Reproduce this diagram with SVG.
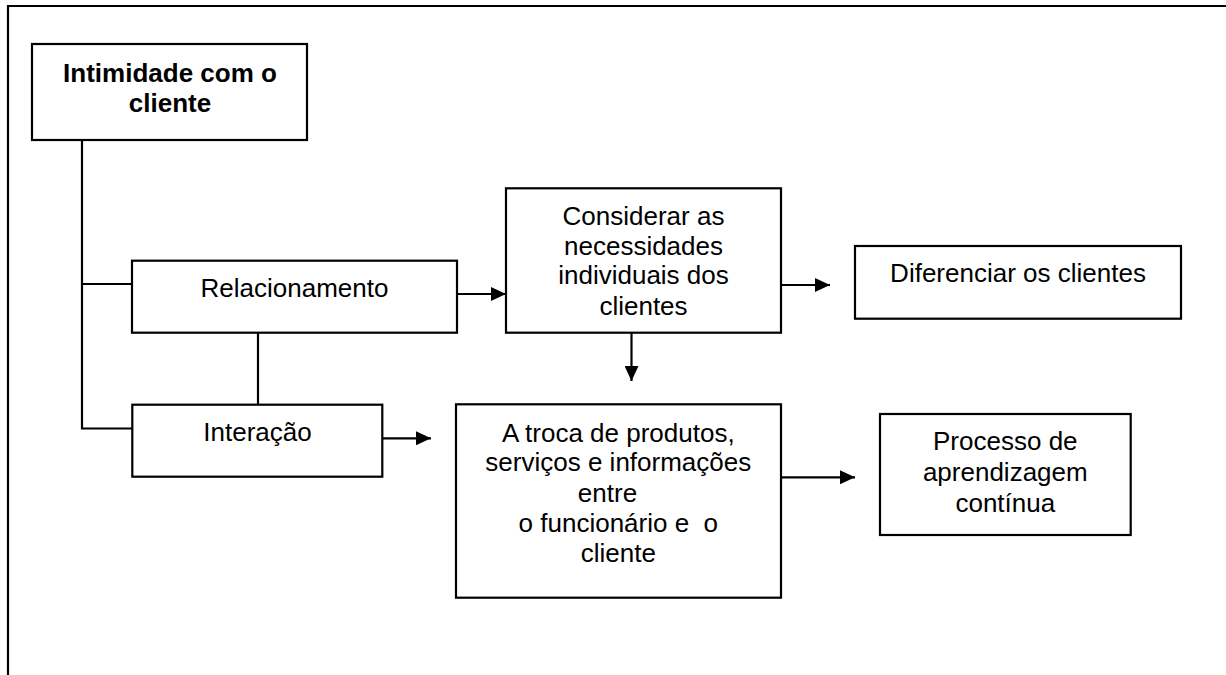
<svg xmlns="http://www.w3.org/2000/svg" width="1226" height="675" viewBox="0 0 1226 675">
<defs>
<style>
.box{fill:#fff;stroke:#000;stroke-width:2.2}
.ln{fill:none;stroke:#000;stroke-width:2.2}
.t{font-family:"Liberation Sans",Arial,sans-serif;font-size:26px;fill:#000;text-anchor:middle;white-space:pre}
.b{font-weight:bold}
</style>
<marker id="ah" viewBox="0 0 15 14" refX="15" refY="7" markerWidth="15" markerHeight="14" markerUnits="userSpaceOnUse" orient="auto">
<path d="M0,0 L15,7 L0,14 Z" fill="#000"/>
</marker>
</defs>
<rect width="1226" height="675" fill="#fff"/>
<path class="ln" d="M8,675 V6 H1226"/>
<g id="connectors">
<path class="ln" d="M82,140 V428.5 H132"/>
<path class="ln" d="M82,284 H132"/>
<path class="ln" d="M258,332.7 V405"/>
<path class="ln" d="M457,294 H506" marker-end="url(#ah)"/>
<path class="ln" d="M382,438.3 H431" marker-end="url(#ah)"/>
<path class="ln" d="M781,285 H830" marker-end="url(#ah)"/>
<path class="ln" d="M631.5,333 V381" marker-end="url(#ah)"/>
<path class="ln" d="M781,477.3 H855" marker-end="url(#ah)"/>
</g>
<g id="n-intimidade">
<rect class="box" x="32" y="44" width="275" height="96"/>
<text class="t b" x="170" y="81.7">Intimidade com o</text>
<text class="t b" x="170" y="111.7">cliente</text>
</g>
<g id="n-relacionamento">
<rect class="box" x="132" y="260.7" width="325" height="72"/>
<text class="t" x="294.5" y="297.3">Relacionamento</text>
</g>
<g id="n-interacao">
<rect class="box" x="132.3" y="404.7" width="250" height="72"/>
<text class="t" x="257.5" y="441">Interação</text>
</g>
<g id="n-considerar">
<rect class="box" x="506" y="188.3" width="275" height="144.4"/>
<text class="t" x="643.5" y="225">Considerar as</text>
<text class="t" x="643.5" y="254.5">necessidades</text>
<text class="t" x="643.5" y="284">individuais dos</text>
<text class="t" x="643.5" y="315">clientes</text>
</g>
<g id="n-diferenciar">
<rect class="box" x="855" y="246" width="326" height="72.7"/>
<text class="t" x="1018" y="281.7">Diferenciar os clientes</text>
</g>
<g id="n-troca">
<rect class="box" x="456" y="404.3" width="325" height="193.4"/>
<text class="t" x="618.3" y="441.7">A troca de produtos,</text>
<text class="t" x="618.3" y="471.2">serviços e informações</text>
<text class="t" x="607.5" y="501.7">entre</text>
<text class="t" x="618.3" y="531.7">o funcionário e  o</text>
<text class="t" x="618.3" y="562">cliente</text>
</g>
<g id="n-processo">
<rect class="box" x="880" y="414" width="250.7" height="121"/>
<text class="t" x="1005.3" y="450">Processo de</text>
<text class="t" x="1005.3" y="480.5">aprendizagem</text>
<text class="t" x="1005.3" y="511.7">contínua</text>
</g>
</svg>
